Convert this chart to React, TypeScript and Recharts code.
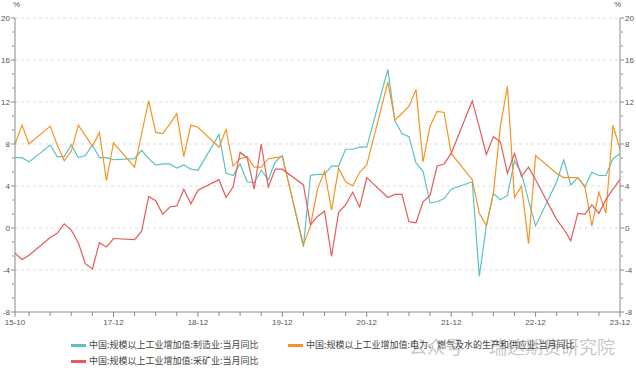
import React from "react";
import { LineChart, Line, XAxis, YAxis, CartesianGrid } from "recharts";

// month index 0 = 2016-10 ... 86 = 2023-12; Jan/Feb are not published (null)
const manufacturing = [
  6.7, 6.7, 6.3,
  null, null, 7.9, 6.8, 6.8, 7.9, 6.7, 6.9, 7.9, 6.7, 6.7, 6.5,
  null, null, 6.6, 7.4, 6.6, 6.0, 6.1, 6.1, 5.7, 6.0, 5.6, 5.5,
  null, null, 8.9, 5.2, 5.0, 6.1, 4.4, 4.3, 5.5, 4.6, 6.3, 6.9,
  null, null, -1.8, 5.0, 5.1, 5.1, 5.9, 5.9, 7.5, 7.5, 7.7, 7.7,
  null, null, 15.1, 10.2, 9.0, 8.7, 6.2, 5.4, 2.4, 2.5, 2.8, 3.7,
  null, null, 4.4, -4.6, 0.2, 3.3, 2.7, 3.1, 6.4, 5.2, 2.6, 0.2,
  null, null, 4.4, 6.5, 4.1, 4.8, 3.9, 5.3, 5.0, 5.0, 6.6, 7.1,
];

const power = [
  8.0, 9.8, 8.0,
  null, null, 9.7, 7.9, 6.4, 7.3, 9.8, 8.8, 7.8, 9.1, 4.5, 8.1,
  null, null, 5.8, 9.0, 12.1, 9.1, 9.0, 9.9, 10.9, 6.8, 9.8, 9.6,
  null, null, 7.7, 9.4, 5.9, 6.6, 6.8, 5.8, 5.8, 6.6, 6.7, 6.8,
  null, null, -1.6, 0.2, 3.7, 5.4, 1.7, 5.7, 4.4, 4.0, 5.3, 6.0,
  null, null, 13.9, 10.3, 10.9, 11.6, 13.2, 6.3, 9.7, 11.1, 11.0, 7.1,
  null, null, 4.6, 1.4, 0.2, 3.3, 9.7, 13.5, 2.9, 4.0, -1.5, 6.9,
  null, null, 5.2, 4.8, 4.8, 4.8, 4.0, 0.2, 3.4, 1.4, 9.8, 7.5,
];

const mining = [
  -2.4, -3.0, -2.6,
  null, null, -0.9, -0.5, 0.4, -0.2, -1.4, -3.4, -3.9, -1.4, -1.8, -1.0,
  null, null, -1.1, -0.3, 3.0, 2.6, 1.3, 2.0, 2.1, 3.7, 2.3, 3.6,
  null, null, 4.6, 2.9, 3.9, 7.2, 6.7, 3.7, 8.0, 3.9, 5.6, 5.6,
  null, null, 4.1, 0.3, 1.1, 1.6, -2.7, 1.5, 2.2, 3.4, 2.0, 4.8,
  null, null, 2.9, 3.2, 3.2, 0.6, 0.5, 2.5, 3.1, 5.9, 6.1, 7.1,
  null, null, 12.1, 9.6, 7.0, 8.7, 8.2, 5.2, 7.1, 4.9, 5.8, 4.6,
  null, null, 0.8, -0.1, -1.2, 1.4, 1.3, 2.2, 1.4, 2.7, 3.7, 4.6,
];

const xLabelIdx = [0, 14, 26, 38, 50, 62, 74, 86];
const xLabels = ["15-10", "17-12", "18-12", "19-12", "20-12", "21-12", "22-12", "23-12"];
const yMajor = [-8, -4, 0, 4, 8, 12, 16, 20];

const SERIES = [
  { key: "mfg", name: "中国:规模以上工业增加值:制造业:当月同比", color: "#5bc2c2" },
  { key: "power", name: "中国:规模以上工业增加值:电力、燃气及水的生产和供应业:当月同比", color: "#f39423" },
  { key: "mining", name: "中国:规模以上工业增加值:采矿业:当月同比", color: "#e45c5c" },
];

const data = manufacturing.map((v, i) => ({
  i,
  mfg: v,
  power: power[i],
  mining: mining[i],
}));

const xTicks = [0, ...Array.from({ length: 29 }, (_, k) => 2 + 3 * k)];
const yTicks = Array.from({ length: 22 }, (_, k) => -8 + (k * 4) / 3);

const isMajor = (v: number) => Math.abs(v - Math.round(v)) < 1e-6 && Math.round(v) % 4 === 0;

const AXIS = "#8a8a8a";
const TXT = "#555";
const NUM_FONT = "'Liberation Sans', Arial, sans-serif";
const CJK_FONT = "'Noto Sans CJK SC', 'Noto Sans', sans-serif";

const LeftTick = (p: any) => {
  const v = p.payload.value;
  const major = isMajor(v);
  return (
    <g>
      <line x1={p.x - (major ? 4 : 3)} x2={major ? p.x : p.x - 1} y1={p.y} y2={p.y} stroke={AXIS} />
      {major && (
        <text x={p.x - 5} y={p.y} dy={3} textAnchor="end" fontSize={8} fill={TXT} fontFamily={NUM_FONT}>
          {Math.round(v)}
        </text>
      )}
    </g>
  );
};

const RightTick = (p: any) => {
  const v = p.payload.value;
  const major = isMajor(v);
  return (
    <g>
      <line x1={major ? p.x : p.x + 1} x2={p.x + (major ? 4 : 3)} y1={p.y} y2={p.y} stroke={AXIS} />
      {major && (
        <text x={p.x + 5} y={p.y} dy={3} textAnchor="start" fontSize={8} fill={TXT} fontFamily={NUM_FONT}>
          {Math.round(v)}
        </text>
      )}
    </g>
  );
};

const BottomTick = (p: any) => {
  const v = p.payload.value;
  const li = xLabelIdx.indexOf(v);
  return (
    <g>
      <line x1={p.x} x2={p.x} y1={p.y} y2={p.y + (li >= 0 ? 5 : 4)} stroke={AXIS} />
      {li >= 0 && (
        <text x={p.x} y={p.y + 13} textAnchor="middle" fontSize={8} fill={TXT} fontFamily={NUM_FONT}>
          {xLabels[li]}
        </text>
      )}
    </g>
  );
};

function LegendItem({ name, color, left, top }: { name: string; color: string; left: number; top: number }) {
  return (
    <div style={{ position: "absolute", left, top, display: "flex", alignItems: "center", whiteSpace: "nowrap" }}>
      <span style={{ display: "inline-block", width: 15, height: 3, background: color, marginRight: 3 }} />
      <span style={{ fontSize: 9, color: "#444", fontFamily: CJK_FONT, lineHeight: "12px" }}>{name}</span>
    </div>
  );
}

export default function App() {
  return (
    <div style={{ position: "relative", width: 636, height: 372, background: "#fff", overflow: "hidden" }}>
      <style>{"body{margin:0}"}</style>
      <LineChart width={636} height={372} data={data} margin={{ top: 18, right: 15, left: 14, bottom: 0 }}>
        <CartesianGrid
          yAxisId="left"
          vertical={false}
          horizontalValues={yMajor.filter((v) => v > -8)}
          stroke="#dcdcdc"
          strokeDasharray="3 3"
        />
        <XAxis
          dataKey="i"
          type="number"
          domain={[0, 86]}
          ticks={xTicks}
          interval={0}
          height={60}
          tickSize={0}
          tickMargin={0}
          stroke={AXIS}
          tick={BottomTick}
        />
        <YAxis
          yAxisId="left"
          type="number"
          domain={[-8, 20]}
          ticks={yTicks}
          interval={0}
          width={1}
          tickSize={0}
          tickMargin={0}
          stroke={AXIS}
          tick={LeftTick}
          allowDataOverflow
        />
        <YAxis
          yAxisId="right"
          type="number"
          orientation="right"
          domain={[-8, 20]}
          ticks={yTicks}
          interval={0}
          width={1}
          tickSize={0}
          tickMargin={0}
          stroke={AXIS}
          tick={RightTick}
          allowDataOverflow
        />
        {SERIES.map((s) => (
          <Line
            key={s.key}
            yAxisId="left"
            type="linear"
            dataKey={s.key}
            stroke={s.color}
            strokeWidth={1.2}
            dot={false}
            connectNulls
            isAnimationActive={false}
          />
        ))}
      </LineChart>

      <div style={{ position: "absolute", left: 13, top: 0, fontSize: 8, color: TXT, fontFamily: NUM_FONT }}>%</div>
      <div style={{ position: "absolute", left: 614, top: 0, fontSize: 8, color: TXT, fontFamily: NUM_FONT }}>%</div>

      <div
        style={{
          position: "absolute",
          left: 409,
          top: 333,
          fontSize: 18,
          color: "rgba(110,110,110,0.4)",
          fontFamily: CJK_FONT,
          whiteSpace: "nowrap",
        }}
      >
        公众号 · 瑞达期货研究院
      </div>

      <LegendItem name={SERIES[0].name} color={SERIES[0].color} left={71} top={339} />
      <LegendItem name={SERIES[1].name} color={SERIES[1].color} left={288} top={339} />
      <LegendItem name={SERIES[2].name} color={SERIES[2].color} left={71} top={355} />
    </div>
  );
}
